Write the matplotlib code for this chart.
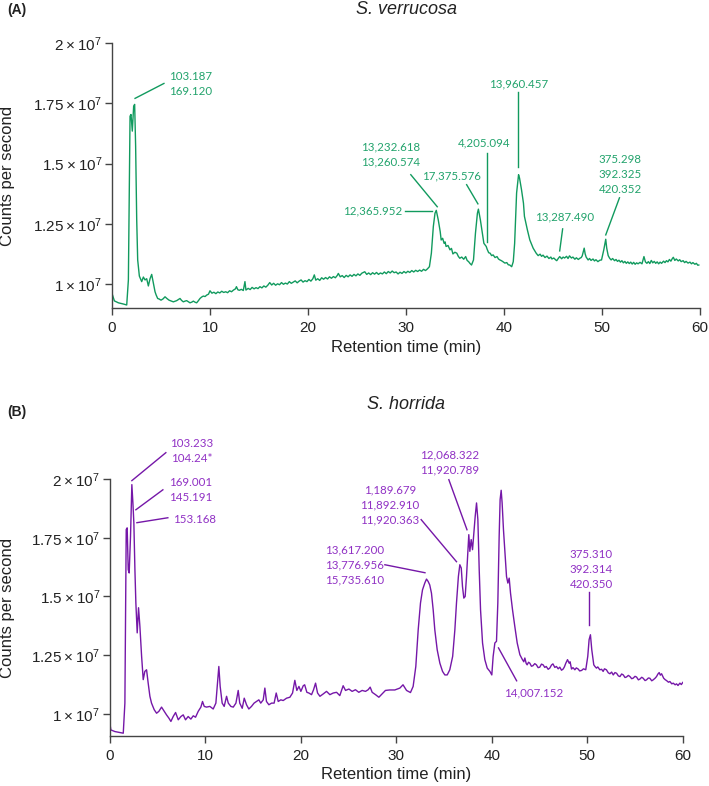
import numpy as np
import matplotlib
matplotlib.use("Agg")
import matplotlib.pyplot as plt
from matplotlib.ticker import FixedLocator, FixedFormatter

plt.rcParams['font.family'] = ['Liberation Sans', 'DejaVu Sans']
plt.rcParams['mathtext.fontset'] = 'custom'
plt.rcParams['mathtext.rm'] = 'Liberation Sans'

# S. verrucosa trace (time in min, counts in 1e7)
verr_time = [0.0, 0.24, 0.65, 1.16, 1.50, 1.67, 1.84, 1.94, 2.07, 2.21, 2.31, 2.41, 2.52, 2.62, 2.79,
             3.03, 3.20, 3.37, 3.54, 3.71, 3.88, 4.05, 4.22, 4.39, 4.5, 4.66, 4.8, 5.0, 5.2, 5.41, 5.6,
             5.82, 6.0, 6.26, 6.45, 6.6, 6.8, 6.94, 7.1, 7.28, 7.45, 7.62, 7.8, 7.96, 8.15, 8.30, 8.5,
             8.64, 8.8, 8.98, 9.15, 9.32, 9.5, 9.66, 9.85,
             10.0, 10.2, 10.4, 10.6, 10.8, 11.0, 11.2, 11.4, 11.6, 11.8, 12.0, 12.2, 12.4, 12.6, 12.7,
             12.85, 13.0, 13.2, 13.4, 13.57, 13.67, 13.9, 14.1, 14.3, 14.5, 14.7, 14.9, 15.1, 15.3,
             15.5, 15.7, 15.9, 16.1, 16.3, 16.5, 16.7, 16.9, 17.1, 17.3, 17.5, 17.7, 17.9, 18.1, 18.3,
             18.5, 18.7, 18.9, 19.1, 19.3, 19.5, 19.7, 19.9, 20.1, 20.3, 20.5, 20.65, 20.8, 21.0, 21.2,
             21.4, 21.6, 21.8, 22.0, 22.2, 22.4, 22.6, 22.8, 23.0, 23.1, 23.3, 23.5, 23.7, 23.9, 24.1,
             24.3, 24.5, 24.7, 24.9, 25.1, 25.3, 25.5, 25.8, 26.0, 26.2, 26.4, 26.6, 26.8, 27.0, 27.2,
             27.4, 27.6, 27.8, 28.0, 28.2, 28.4, 28.6, 28.8, 29.0, 29.2, 29.4, 29.6, 29.8, 30.0, 30.2,
             30.4, 30.6, 30.8, 31.0, 31.2, 31.4, 31.6, 31.8, 32.0, 32.2, 32.4,
             32.6, 32.8, 32.97, 33.1, 33.3, 33.5, 33.6, 33.75, 33.9, 34.0, 34.1, 34.3, 34.5, 34.65,
             34.8, 35.0, 35.2, 35.35, 35.5, 35.7, 35.9, 36.1, 36.25, 36.4, 36.55, 36.7, 36.9, 37.1,
             37.3, 37.4, 37.6, 37.8, 37.96, 38.2, 38.3, 38.45, 38.6, 38.75, 38.9, 39.1, 39.3, 39.45,
             39.6, 39.75, 39.9, 40.1, 40.3, 40.45, 40.6, 40.8, 40.96, 41.1, 41.3, 41.5, 41.6, 41.8,
             42.0, 42.1, 42.4, 42.65, 42.99,
             43.3, 43.5, 43.7, 43.85, 44.0, 44.2, 44.4, 44.6, 44.8, 44.9, 45.1, 45.3, 45.4, 45.55,
             45.7, 45.9, 46.05, 46.2, 46.4, 46.55, 46.7, 46.9, 47.05, 47.25, 47.4, 47.6, 47.75, 47.9,
             48.0, 48.2, 48.3, 48.4, 48.6, 48.75, 48.9, 49.1, 49.25, 49.4, 49.6, 49.8, 49.97, 50.2,
             50.4, 50.5, 50.65, 50.8, 50.95, 51.1, 51.3, 51.45, 51.6, 51.75, 51.9, 52.05, 52.2, 52.35,
             52.5, 52.65, 52.8, 52.95, 53.1, 53.25, 53.4, 53.55, 53.7, 53.9, 54.1, 54.3, 54.45, 54.6,
             54.75, 54.9, 55.05, 55.2, 55.35, 55.5, 55.65, 55.8, 55.95, 56.1, 56.3, 56.45, 56.6,
             56.75, 56.9, 57.05, 57.2, 57.3, 57.45, 57.6, 57.8, 57.95, 58.1, 58.3, 58.45, 58.6, 58.8,
             59.0, 59.15, 59.3, 59.5, 59.65, 59.8, 59.9]
verr_counts = [0.961, 0.930, 0.922, 0.917, 0.913, 1.017, 1.697, 1.704, 1.635, 1.739, 1.746, 1.572, 1.267,
               1.100, 1.033, 1.010, 1.029, 1.017, 1.022, 0.992, 1.022, 1.040, 1.003, 0.968, 0.955,
               0.940, 0.938, 0.933, 0.938, 0.947, 0.940, 0.933, 0.930, 0.926, 0.929, 0.931, 0.936,
               0.940, 0.932, 0.926, 0.929, 0.931, 0.926, 0.922, 0.925, 0.929, 0.924, 0.922, 0.930,
               0.940, 0.946, 0.950, 0.948, 0.954, 0.958,
               0.972, 0.962, 0.966, 0.960, 0.967, 0.963, 0.970, 0.965, 0.968, 0.964, 0.972, 0.968,
               0.975, 0.980, 0.989, 0.976, 0.974, 0.978, 0.973, 1.010, 0.975, 0.982, 0.977, 0.986,
               0.980, 0.985, 0.981, 0.989, 0.984, 0.992, 0.987, 0.995, 1.006, 0.996, 1.003, 0.995,
               1.001, 0.997, 1.006, 0.999, 1.004, 1.000, 1.010, 1.003, 1.008, 1.013, 1.005, 1.012,
               1.017, 1.008, 1.014, 1.010, 1.019, 1.012, 1.022, 1.038, 1.016, 1.022, 1.015, 1.026,
               1.020, 1.027, 1.021, 1.030, 1.024, 1.031, 1.026, 1.036, 1.044, 1.030, 1.035, 1.027,
               1.036, 1.030, 1.038, 1.032, 1.040, 1.034, 1.042, 1.036, 1.045, 1.051, 1.040, 1.046,
               1.039, 1.047, 1.041, 1.048, 1.040, 1.046, 1.042, 1.050, 1.043, 1.052, 1.046, 1.054,
               1.047, 1.050, 1.042, 1.049, 1.044, 1.052, 1.046, 1.053, 1.048, 1.056, 1.050, 1.057,
               1.052, 1.058, 1.053, 1.061, 1.056, 1.063, 1.072,
               1.128, 1.239, 1.294, 1.306, 1.267, 1.218, 1.183, 1.190, 1.169, 1.175, 1.156, 1.160,
               1.142, 1.148, 1.125, 1.132, 1.128, 1.115, 1.107, 1.112, 1.103, 1.114, 1.098, 1.093,
               1.085, 1.079, 1.100, 1.211, 1.294, 1.311, 1.267, 1.211, 1.169, 1.156, 1.144, 1.130,
               1.128, 1.118, 1.121, 1.110, 1.114, 1.104, 1.100, 1.097, 1.093, 1.087, 1.089, 1.080,
               1.079, 1.072, 1.093, 1.169, 1.378, 1.454, 1.440, 1.392, 1.336, 1.281, 1.225, 1.183,
               1.149,
               1.128, 1.118, 1.124, 1.115, 1.120, 1.110, 1.116, 1.106, 1.112, 1.104, 1.108, 1.100,
               1.097, 1.106, 1.114, 1.105, 1.112, 1.108, 1.115, 1.106, 1.117, 1.108, 1.112, 1.103,
               1.109, 1.102, 1.107, 1.110, 1.117, 1.149, 1.125, 1.112, 1.100, 1.106, 1.098, 1.104,
               1.096, 1.101, 1.093, 1.099, 1.100, 1.142, 1.186, 1.149, 1.118, 1.107, 1.100, 1.106,
               1.097, 1.102, 1.094, 1.099, 1.091, 1.097, 1.088, 1.094, 1.086, 1.092, 1.085, 1.091,
               1.083, 1.090, 1.082, 1.088, 1.084, 1.090, 1.084, 1.114, 1.092, 1.086, 1.093, 1.085,
               1.098, 1.088, 1.094, 1.086, 1.092, 1.084, 1.091, 1.086, 1.095, 1.089, 1.097, 1.092,
               1.102, 1.095, 1.106, 1.111, 1.098, 1.104, 1.096, 1.101, 1.093, 1.097, 1.089, 1.094,
               1.087, 1.091, 1.084, 1.089, 1.082, 1.086, 1.078, 1.079]

# S. horrida trace
horr_time = [0.0, 0.10, 0.52, 1.05, 1.40, 1.57, 1.71, 1.81, 1.92, 2.02, 2.16, 2.30, 2.41, 2.51, 2.62,
             2.72, 2.86, 3.00, 3.14, 3.32, 3.49, 3.66, 3.84, 4.01, 4.19, 4.36, 4.64, 4.89, 5.13, 5.41,
             5.69, 5.93, 6.18, 6.39, 6.63, 6.88, 7.16, 7.44, 7.68, 7.92, 8.20, 8.48, 8.73, 8.97, 9.25,
             9.53, 9.70, 9.88, 10.12, 10.47, 10.82, 11.1, 11.27, 11.41, 11.55, 11.76, 11.97, 12.22,
             12.40, 12.67, 12.92, 13.2, 13.44, 13.6, 13.86, 14.07, 14.31, 14.55, 14.83, 15.1, 15.36,
             15.6, 15.8, 16.06, 16.23, 16.4, 16.65, 16.93, 17.2, 17.42, 17.63, 17.9, 18.15, 18.5,
             18.85, 19.13, 19.37, 19.58, 19.8, 20.0, 20.25, 20.4, 20.63, 20.84, 21.12, 21.33, 21.54,
             21.75, 22.0, 22.34, 22.69, 23.04, 23.39, 23.74, 24.08, 24.43, 24.68, 25.03, 25.37, 25.72,
             26.07, 26.42, 26.77, 27.05, 27.26, 27.47, 27.82, 28.17, 28.5, 28.86, 29.3, 29.84, 30.37,
             30.7, 31.07, 31.48, 31.76, 32.04, 32.29, 32.53, 32.74, 32.98, 33.16, 33.33, 33.5, 33.68,
             33.86, 34.03, 34.28, 34.56, 34.84, 35.08, 35.33, 35.6, 35.9, 36.13, 36.3, 36.5, 36.65,
             36.8, 36.93, 37.07, 37.21, 37.35, 37.49, 37.59, 37.7, 37.84, 37.98, 38.12, 38.26, 38.4,
             38.54, 38.68, 38.82, 39.03, 39.27, 39.52, 39.8, 40.0, 40.14, 40.32, 40.49, 40.63, 40.77,
             40.87, 40.98, 41.08, 41.22, 41.4, 41.54, 41.68, 41.82, 41.96, 42.17, 42.41, 42.66, 42.94,
             43.21, 43.35, 43.46, 43.6, 43.7, 43.85, 43.98, 44.15, 44.3, 44.5, 44.67, 44.85, 45.02,
             45.2, 45.37, 45.55, 45.7, 45.9, 46.07, 46.25, 46.4, 46.6, 46.77, 46.95, 47.12, 47.3,
             47.47, 47.6, 47.75, 47.93, 48.1, 48.2, 48.35, 48.5, 48.7, 48.85, 49.05, 49.2, 49.4, 49.6,
             49.84, 50.05, 50.19, 50.33, 50.47, 50.68, 50.8, 50.96, 51.1, 51.31, 51.5, 51.66, 51.8,
             52.0, 52.2, 52.37, 52.55, 52.72, 52.9, 53.07, 53.25, 53.42, 53.6, 53.77, 53.95, 54.1,
             54.3, 54.47, 54.65, 54.8, 55.0, 55.16, 55.35, 55.5, 55.7, 55.85, 56.05, 56.2, 56.4, 56.55,
             56.75, 56.9, 57.1, 57.25, 57.4, 57.53, 57.65, 57.78, 57.9, 58.0, 58.15, 58.3, 58.5, 58.65,
             58.85, 59.0, 59.2, 59.35, 59.5, 59.7, 59.85, 60.0]
horr_counts = [0.960, 0.932, 0.925, 0.921, 0.918, 1.046, 1.785, 1.792, 1.614, 1.600, 1.756, 1.976, 1.898,
               1.813, 1.614, 1.472, 1.345, 1.452, 1.374, 1.246, 1.146, 1.181, 1.188, 1.131, 1.075, 1.046,
               1.018, 1.003, 1.011, 1.029, 1.011, 0.996, 0.982, 0.968, 0.989, 1.006, 0.975, 0.989, 0.996,
               0.975, 0.989, 0.978, 0.992, 0.986, 1.011, 1.029, 1.053, 1.032, 1.029, 1.032, 1.021, 1.046,
               1.131, 1.202, 1.117, 1.046, 1.032, 1.075, 1.046, 1.032, 1.029, 1.046, 1.100, 1.046, 1.024,
               1.067, 1.039, 1.021, 1.032, 1.046, 1.053, 1.060, 1.046, 1.060, 1.110, 1.053, 1.039, 1.046,
               1.046, 1.089, 1.053, 1.060, 1.057, 1.067, 1.071, 1.089, 1.143, 1.100, 1.117, 1.096, 1.120,
               1.124, 1.092, 1.089, 1.082, 1.103, 1.131, 1.089, 1.075, 1.085, 1.096, 1.082, 1.089, 1.092,
               1.078, 1.120, 1.100, 1.106, 1.096, 1.103, 1.092, 1.100, 1.096, 1.103, 1.114, 1.092, 1.082,
               1.071, 1.085, 1.100, 1.102, 1.102, 1.110, 1.124, 1.100, 1.091, 1.117, 1.202, 1.358, 1.472,
               1.528, 1.557, 1.574, 1.564, 1.549, 1.514, 1.443, 1.358, 1.273, 1.216, 1.181, 1.166, 1.166,
               1.188, 1.245, 1.358, 1.472, 1.585, 1.635, 1.621, 1.542, 1.493, 1.500, 1.585, 1.692, 1.763,
               1.692, 1.742, 1.699, 1.770, 1.841, 1.898, 1.827, 1.614, 1.443, 1.302, 1.231, 1.195, 1.181,
               1.166, 1.245, 1.302, 1.309, 1.472, 1.756, 1.912, 1.952, 1.898, 1.785, 1.671, 1.585, 1.557,
               1.578, 1.514, 1.443, 1.372, 1.302, 1.252,
               1.231, 1.222, 1.238, 1.215, 1.209, 1.220, 1.216, 1.203, 1.205, 1.214, 1.209, 1.197,
               1.199, 1.212, 1.209, 1.198, 1.202, 1.190, 1.195, 1.208, 1.213, 1.198, 1.202, 1.192,
               1.199, 1.186, 1.191, 1.200, 1.216, 1.231, 1.216, 1.222, 1.191, 1.197, 1.188, 1.196,
               1.191, 1.183, 1.185, 1.192, 1.188, 1.245, 1.316, 1.337, 1.273, 1.209, 1.202, 1.195,
               1.200, 1.188, 1.190, 1.181, 1.192, 1.188, 1.175, 1.171, 1.178, 1.166, 1.176, 1.173,
               1.162, 1.159, 1.170, 1.166, 1.155, 1.157, 1.164, 1.159, 1.150, 1.152, 1.160, 1.157,
               1.145, 1.148, 1.156, 1.152, 1.142, 1.145, 1.153, 1.152, 1.141, 1.145, 1.152, 1.159,
               1.170, 1.176, 1.165, 1.171, 1.160, 1.152, 1.146, 1.142, 1.135, 1.138, 1.128, 1.131,
               1.124, 1.128, 1.121, 1.131, 1.125, 1.134]

ytick_vals = [1.0, 1.25, 1.5, 1.75, 2.0]
ytick_labels = [r'$\mathregular{1\times10^{7}}$', r'$\mathregular{1.25\times10^{7}}$',
                r'$\mathregular{1.5\times10^{7}}$', r'$\mathregular{1.75\times10^{7}}$',
                r'$\mathregular{2\times10^{7}}$']
xtick_vals = [0, 10, 20, 30, 40, 50, 60]

# peak labels: text, text position, line start, line end, alignment
verr_notes = [
    ("103.187\n169.120", (5.8, 1.829), (2.35, 1.771), (5.3, 1.833), 'left'),
    ("13,232.618\n13,260.574", (28.4, 1.5375), (30.5, 1.454), (33.2, 1.321), 'center'),
    ("12,365.952", (29.6, 1.304), (29.9, 1.304), (32.65, 1.304), 'right'),
    ("17,375.576", (34.6, 1.45), (36.2, 1.4125), (37.35, 1.333), 'center'),
    ("4,205.094", (37.96, 1.5875), (38.27, 1.546), (38.27, 1.175), 'center'),
    ("13,960.457", (41.5, 1.833), (41.47, 1.796), (41.47, 1.4875), 'center'),
    ("13,287.490", (46.2, 1.279), (46.0, 1.229), (45.7, 1.1375), 'center'),
    ("375.298\n392.325\n420.352", (51.9, 1.454), (51.8, 1.358), (50.4, 1.204), 'center'),
]
horr_notes = [
    ("103.233\n104.24*", (6.28, 2.118), (2.30, 1.993), (5.86, 2.112), 'left'),
    ("169.001\n145.191", (6.18, 1.952), (2.72, 1.869), (5.55, 1.954), 'left'),
    ("153.168", (6.6, 1.827), (2.83, 1.814), (6.07, 1.835), 'left'),
    ("13,617.200\n13,776.956\n15,735.610", (25.6, 1.635), (28.8, 1.635), (33.0, 1.601), 'center'),
    ("1,189.679\n11,892.910\n11,920.363", (29.3, 1.890), (32.6, 1.827), (36.3, 1.648), 'center'),
    ("12,068.322\n11,920.789", (35.6, 2.069), (35.5, 1.997), (37.4, 1.784), 'center'),
    ("375.310\n392.314\n420.350", (50.4, 1.614), (50.2, 1.520), (50.2, 1.379), 'center'),
    ("14,007.152", (44.35, 1.089), (40.7, 1.281), (42.6, 1.141), 'center'),
]

fig = plt.figure(figsize=(7.09, 7.86), dpi=100)


def draw_panel(rect, t, c, notes, line_col, text_col, ylo):
    ax = fig.add_axes(rect)
    ax.plot(t, np.array(c) * 1e7, color=line_col, lw=1.0)
    ax.set_xlim(0, 60)
    ax.set_ylim(ylo * 1e7, 2.0e7)
    ax.spines['top'].set_visible(False)
    ax.spines['right'].set_visible(False)
    for s in ('left', 'bottom'):
        ax.spines[s].set_color('#444444')
        ax.spines[s].set_linewidth(1.0)
    ax.xaxis.set_major_locator(FixedLocator(xtick_vals))
    ax.yaxis.set_major_locator(FixedLocator([v * 1e7 for v in ytick_vals]))
    ax.yaxis.set_major_formatter(FixedFormatter(ytick_labels))
    ax.tick_params(axis='both', length=5, width=1.0, color='#444444', labelsize=11, labelcolor='#222222')
    ax.tick_params(axis='x', pad=4)
    ax.tick_params(axis='y', pad=2)
    ax.set_xlabel('Retention time (min)', fontsize=12, color='#222222')
    ax.xaxis.set_label_coords(0.5, -0.121)
    ax.set_ylabel('Counts per second', fontsize=12, color='#222222')
    for txt, tpos, p0, p1, ha in notes:
        ax.plot([p0[0], p1[0]], [p0[1] * 1e7, p1[1] * 1e7], color=line_col, lw=1.0, clip_on=False)
        ax.text(tpos[0], tpos[1] * 1e7, txt, color=text_col, fontsize=8.3, family='Lato',
                ha=ha, va='center', multialignment='center', linespacing=1.45)
    return ax


ax1 = draw_panel([0.158, 0.608, 0.829, 0.337], verr_time, verr_counts, verr_notes,
                 '#119a5e', '#22a36c', 0.9)
ax1.yaxis.set_label_coords(-0.165, 0.5)
ax2 = draw_panel([0.155, 0.0636, 0.808, 0.327], horr_time, horr_counts, horr_notes,
                 '#7517a8', '#9030c4', 0.906)
ax2.yaxis.set_label_coords(-0.166, 0.5)

fig.text(0.573, 0.9885, 'S. verrucosa', fontsize=13, style='italic', ha='center', va='center', color='#222222')
fig.text(0.573, 0.485, 'S. horrida', fontsize=13, style='italic', ha='center', va='center', color='#222222')
fig.text(0.01, 0.987, '(A)', fontsize=10, weight='bold', ha='left', va='center', color='#222222')
fig.text(0.01, 0.476, '(B)', fontsize=10, weight='bold', ha='left', va='center', color='#222222')

fig.savefig('out.png', dpi=100)
